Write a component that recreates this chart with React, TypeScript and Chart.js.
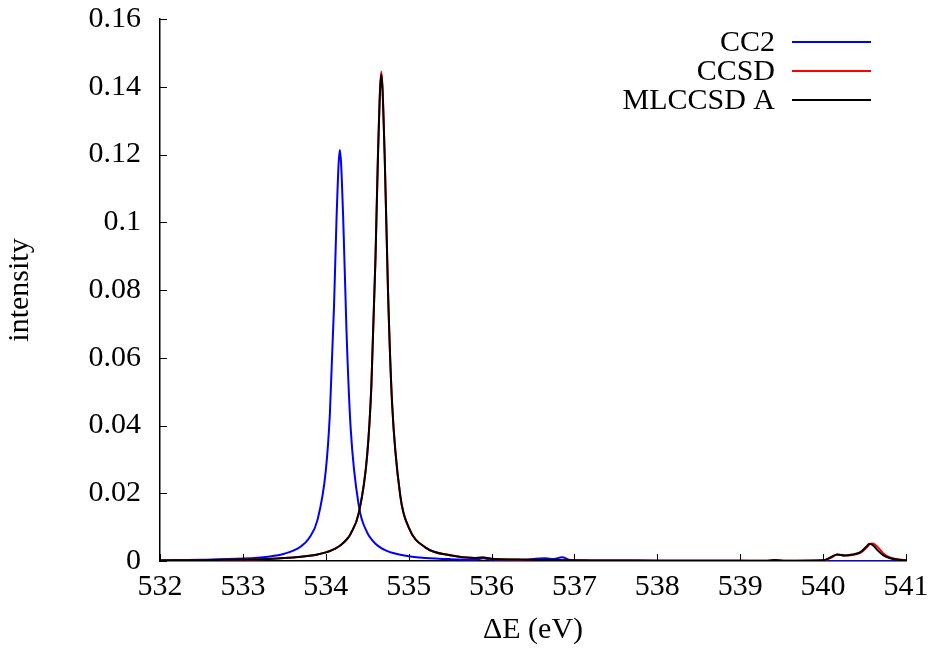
import React, { useEffect, useRef } from 'react';
import { Chart, registerables } from 'chart.js';

Chart.register(...registerables);

const energies = [
  532.0, 532.5, 533.0, 533.3, 533.5, 533.7, 533.8, 533.9, 534.0, 534.05,
  534.1, 534.13, 534.17, 534.21, 534.25, 534.3, 534.4, 534.5, 534.55, 534.6,
  534.63, 534.67, 534.71, 534.75, 534.8, 534.9, 535.0, 535.2, 535.5, 535.8,
  535.9, 536.0, 536.3, 536.65, 536.75, 536.85, 536.95, 537.2, 537.5, 538.0,
  538.5, 539.0, 539.3, 539.42, 539.55, 540.0, 540.1, 540.17, 540.26, 540.35,
  540.45, 540.52, 540.56, 540.6, 540.66, 540.72, 540.8, 540.9, 541.0,
];

const cc2 = [
  0.000208, 0.000352, 0.000716, 0.00128, 0.00215, 0.00429, 0.00678, 0.01214, 0.0266, 0.0437,
  0.0756, 0.1013, 0.1213, 0.1013, 0.0678, 0.0393, 0.0161, 0.0084, 0.00645, 0.0051,
  0.00447, 0.00381, 0.00328, 0.00285, 0.00243, 0.00182, 0.00141, 0.00092, 0.000554, 0.00037,
  0.0008, 0.00029, 0.00022, 0.0008, 0.0006, 0.0011, 0.0003, 0.00011, 0.00009, 0.00006,
  0.00005, 0.00004, 0.00003, 0.00003, 0.00003, 0.00002, 0.00002, 0.00002, 0.00002, 0.00002,
  0.00002, 0.00002, 0.00002, 0.00002, 0.00002, 0.00002, 0.00002, 0.00002, 0.00002,
];

const ccsd = [
  0.000163, 0.000247, 0.000416, 0.000618, 0.00085, 0.00123, 0.00152, 0.00194, 0.00254, 0.00296,
  0.00349, 0.00388, 0.00451, 0.00529, 0.0063, 0.00802, 0.01436, 0.0314, 0.0517, 0.0897,
  0.1205, 0.1444, 0.1205, 0.0804, 0.0466, 0.0191, 0.00994, 0.00402, 0.00167, 0.000905,
  0.001, 0.00066, 0.00044, 0.000297, 0.00027, 0.000245, 0.000224, 0.00018, 0.000145, 0.000105,
  0.000079, 0.000062, 0.00006, 0.0003, 0.00006, 0.0002, 0.001, 0.0019, 0.0016, 0.0018,
  0.0024, 0.0038, 0.0049, 0.0052, 0.0041, 0.0024, 0.0011, 0.0005, 0.0002,
];

const mlccsd = [
  0.000163, 0.000247, 0.000416, 0.000618, 0.00085, 0.00123, 0.00152, 0.00194, 0.00254, 0.00296,
  0.00349, 0.00388, 0.00451, 0.00529, 0.0063, 0.00802, 0.01436, 0.0314, 0.0517, 0.0895,
  0.1199, 0.1436, 0.1199, 0.0802, 0.0465, 0.0191, 0.00994, 0.00402, 0.00167, 0.000905,
  0.001, 0.00066, 0.00044, 0.000297, 0.00027, 0.000245, 0.000224, 0.00018, 0.000145, 0.000105,
  0.000079, 0.000062, 0.00006, 0.0003, 0.00006, 0.0002, 0.0012, 0.0019, 0.0016, 0.0019,
  0.0026, 0.0042, 0.0051, 0.0047, 0.0031, 0.0018, 0.0009, 0.0004, 0.0002,
];

const xTickLabels = ['532', '533', '534', '535', '536', '537', '538', '539', '540', '541'];
const yTickLabels = ['0', '0.02', '0.04', '0.06', '0.08', '0.1', '0.12', '0.14', '0.16'];
const seriesLabels = ['CC2', 'CCSD', 'MLCCSD A'];
const seriesColors = ['#0000ff', '#ff0000', '#000000'];

const FONT = '"Liberation Serif", "Times New Roman", serif';
const FONT_SIZE = 30;

const innerTicks = {
  id: 'innerTicks',
  afterDraw(chart: any) {
    const { ctx, chartArea, scales } = chart;
    const len = 7;
    ctx.save();
    ctx.strokeStyle = '#000';
    ctx.lineWidth = 1;
    ctx.beginPath();
    scales.x.ticks.forEach((t: any) => {
      const px = Math.round(scales.x.getPixelForValue(t.value)) + 0.5;
      ctx.moveTo(px, chartArea.bottom);
      ctx.lineTo(px, chartArea.bottom - len);
    });
    scales.y.ticks.forEach((t: any) => {
      const py = Math.round(scales.y.getPixelForValue(t.value)) + 0.5;
      ctx.moveTo(chartArea.left, py);
      ctx.lineTo(chartArea.left + len, py);
    });
    ctx.stroke();
    ctx.restore();
  },
};

const keyLegend = {
  id: 'keyLegend',
  afterDatasetsDraw(chart: any) {
    const { ctx, chartArea } = chart;
    ctx.save();
    ctx.font = `${FONT_SIZE}px ${FONT}`;
    ctx.textAlign = 'right';
    ctx.textBaseline = 'middle';
    chart.data.datasets.forEach((ds: any, i: number) => {
      const y = chartArea.top + 23 + i * 29;
      ctx.fillStyle = '#000';
      ctx.fillText(ds.label, chartArea.right - 131, y + 1);
      ctx.strokeStyle = ds.borderColor;
      ctx.lineWidth = 2;
      ctx.beginPath();
      ctx.moveTo(chartArea.right - 114, y);
      ctx.lineTo(chartArea.right - 35, y);
      ctx.stroke();
    });
    ctx.restore();
  },
};

export default function App() {
  const ref = useRef<HTMLCanvasElement | null>(null);

  useEffect(() => {
    if (!ref.current) return;
    const series = [cc2, ccsd, mlccsd];
    const chart = new Chart(ref.current, {
      type: 'line',
      data: {
        datasets: series.map((vals, i) => ({
          label: seriesLabels[i],
          data: energies.map((e, j) => ({ x: e, y: vals[j] })),
          borderColor: seriesColors[i],
          backgroundColor: seriesColors[i],
          borderWidth: 2,
          pointRadius: 0,
          fill: false,
          cubicInterpolationMode: 'monotone',
          order: 3 - i,
        })),
      },
      options: {
        responsive: false,
        animation: false,
        devicePixelRatio: 1,
        layout: { padding: { top: 19, right: 29, left: 0, bottom: 0 } },
        plugins: {
          legend: { display: false },
          tooltip: { enabled: false },
        },
        scales: {
          x: {
            type: 'linear',
            min: 532,
            max: 541,
            afterFit: (s: any) => {
              s.height = 87;
              s.paddingLeft = 0;
              s.paddingRight = 0;
            },
            ticks: {
              stepSize: 1,
              padding: 8,
              color: '#000',
              font: { family: FONT, size: FONT_SIZE },
              callback: (_v: any, i: number) => xTickLabels[i],
              maxRotation: 0,
              autoSkip: false,
            },
            grid: { display: true, drawOnChartArea: false, drawTicks: false },
            border: { display: true, color: '#000', width: 1.5 },
            title: {
              display: true,
              text: 'ΔE (eV)',
              color: '#000',
              font: { family: FONT, size: FONT_SIZE },
              padding: { top: 0, bottom: 0 },
            },
          },
          y: {
            type: 'linear',
            min: 0,
            max: 0.16,
            afterFit: (s: any) => {
              s.width = 160;
              s.paddingTop = 0;
              s.paddingBottom = 0;
            },
            ticks: {
              stepSize: 0.02,
              padding: 19,
              color: '#000',
              font: { family: FONT, size: FONT_SIZE },
              callback: (_v: any, i: number) => yTickLabels[i],
              autoSkip: false,
            },
            grid: { display: true, drawOnChartArea: false, drawTicks: false },
            border: { display: true, color: '#000', width: 1.5 },
            title: {
              display: true,
              text: 'intensity',
              color: '#000',
              font: { family: FONT, size: FONT_SIZE },
              padding: { top: 2, bottom: 0 },
            },
          },
        },
      },
      plugins: [innerTicks, keyLegend],
    } as any);
    return () => chart.destroy();
  }, []);

  return (
    <div style={{ position: 'fixed', left: 0, top: 0, width: 935, height: 648, background: '#fff' }}>
      <canvas ref={ref} width={935} height={648} style={{ width: 935, height: 648 }} />
    </div>
  );
}
